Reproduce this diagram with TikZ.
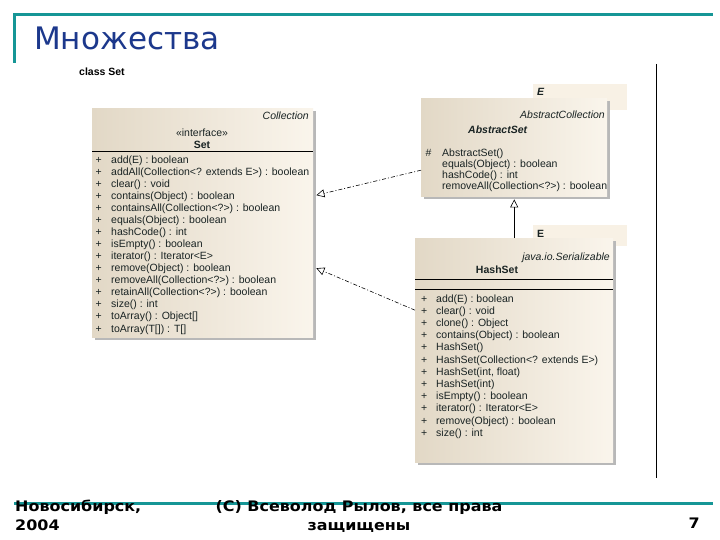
\documentclass[tikz,border=0pt]{standalone}
\usepackage{fontspec}
\setmainfont{DejaVu Sans}
\newfontfamily\umlfont{Liberation Sans}
\newfontfamily\footfont{DejaVu Sans}[FakeStretch=1.1]
\usetikzlibrary{arrows.meta,positioning,shadows}

\definecolor{slideteal}{RGB}{22,150,150}
\definecolor{titleblue}{RGB}{28,56,140}
\definecolor{umllight}{RGB}{250,245,236}
\definecolor{umldark}{RGB}{226,216,198}
\definecolor{tmplfill}{RGB}{248,241,229}
\definecolor{umltext}{RGB}{25,35,35}

\begin{document}
\begin{tikzpicture}[x=1pt, y=-1pt,
      every node/.style={inner sep=0pt, text=umltext},
      umlclass/.style={anchor=north west, left color=umldark, right color=umllight,
        drop shadow={shadow xshift=3pt, shadow yshift=-3pt, fill=black!28, opacity=1}},
      tmplbox/.style={anchor=north west, fill=tmplfill},
      umllabel/.style={font=\umlfont\fontsize{10.5}{12}\selectfont},
      members/.style={anchor=base west, align=left, font=\umlfont\fontsize{10.5}{12.07}\selectfont},
      umlrule/.style={draw=black, line width=0.8pt},
      realize/.style={-{Triangle[open,length=8pt,width=8pt]}, line width=0.6pt,
        dash pattern=on 4pt off 2pt on 1pt off 2pt},
      generalize/.style={-{Triangle[open,length=8pt,width=8pt]}, line width=0.6pt},
      slideline/.style={draw=slideteal, line width=2.6pt},
      footer/.style={font=\footfont\bfseries\fontsize{14.5}{19}\selectfont, text=black}
  ]
    \fill[white] (0,0) rectangle (720,540);
    \useasboundingbox (0,0) rectangle (720,540);

    % slide frame
    \draw[slideline] (14.5,63) -- (14.5,14.5) -- (713,14.5);
    \draw[slideline] (14,503.3) -- (713,503.3);
    \node[anchor=base west, text=titleblue, font=\fontsize{31}{36}\selectfont] (title) at (34,49.5) {Множества};
    \node[anchor=base west, font=\umlfont\bfseries\fontsize{10.5}{11}\selectfont, text=black] (diagname) at (79,76) {class Set};
    \draw[black, line width=0.8pt] (656,64) -- (656,478);

    % interface Set (multi-line nodes sit on their last baseline)
    \node[umlclass, minimum width=221pt, minimum height=229pt] (set) at (92,108) {};
    \node[umllabel, font=\umlfont\itshape\fontsize{10.5}{12}\selectfont, anchor=base east] (setparent) at (309,120) {Collection};
    \node[umllabel, anchor=base] (setkind) at (202,136.5) {«interface»};
    \node[umllabel, font=\umlfont\bfseries\fontsize{10.5}{12}\selectfont, anchor=base] (setname) at (202,149) {Set};
    \draw[umlrule] (set.west |- 0,151) -- (set.east |- 0,151);
    \node[members] (setvis) at (95.5,332) {+\\+\\+\\+\\+\\+\\+\\+\\+\\+\\+\\+\\+\\+\\+};
    \node[members] (setops) at (111,332) {add(E) : boolean\\addAll(Collection<? extends E>) : boolean\\clear() : void\\contains(Object) : boolean\\containsAll(Collection<?>) : boolean\\equals(Object) : boolean\\hashCode() : int\\isEmpty() : boolean\\iterator() : Iterator<E>\\remove(Object) : boolean\\removeAll(Collection<?>) : boolean\\retainAll(Collection<?>) : boolean\\size() : int\\toArray() : Object[]\\toArray(T[]) : T[]};

    % AbstractSet
    \node[tmplbox, minimum width=94pt, minimum height=26pt] (abstractparam) at (533,84) {};
    \node[umllabel, font=\umlfont\bfseries\itshape\fontsize{10.5}{12}\selectfont, anchor=base west] (abstractparamname) at (537,96) {E};
    \node[umlclass, minimum width=186pt, minimum height=98pt] (abstractset) at (421,98) {};
    \node[umllabel, font=\umlfont\itshape\fontsize{10.5}{12}\selectfont, anchor=base east] (abstractparent) at (605,119) {AbstractCollection};
    \node[umllabel, font=\umlfont\bfseries\itshape\fontsize{10.5}{12}\selectfont, anchor=base west] (abstractname) at (468,134) {AbstractSet};
    \node[members] (abstractvis) at (425.5,156.5) {\#};
    \node[members, font=\umlfont\fontsize{10.5}{11}\selectfont] (abstractops) at (442,189.5) {AbstractSet()\\equals(Object) : boolean\\hashCode() : int\\removeAll(Collection<?>) : boolean};

    % HashSet
    \node[tmplbox, minimum width=94pt, minimum height=21pt] (hashparam) at (533,225) {};
    \node[umllabel, font=\umlfont\bfseries\fontsize{10.5}{12}\selectfont, anchor=base west] (hashparamname) at (537,237) {E};
    \node[umlclass, minimum width=198pt, minimum height=224pt] (hashset) at (415,238) {};
    \node[umllabel, font=\umlfont\itshape\fontsize{10.5}{12}\selectfont, anchor=base east] (hashparent) at (610,260) {java.io.Serializable};
    \node[umllabel, font=\umlfont\bfseries\fontsize{10.5}{12}\selectfont, anchor=base] (hashname) at (497,273) {HashSet};
    \draw[umlrule] (hashset.west |- 0,279.5) -- (hashset.east |- 0,279.5);
    \draw[umlrule] (hashset.west |- 0,289) -- (hashset.east |- 0,289);
    \node[members, font=\umlfont\fontsize{10.5}{12.2}\selectfont] (hashvis) at (421,436.2) {+\\+\\+\\+\\+\\+\\+\\+\\+\\+\\+\\+};
    \node[members, font=\umlfont\fontsize{10.5}{12.2}\selectfont] (hashops) at (436,436.2) {add(E) : boolean\\clear() : void\\clone() : Object\\contains(Object) : boolean\\HashSet()\\HashSet(Collection<? extends E>)\\HashSet(int, float)\\HashSet(int)\\isEmpty() : boolean\\iterator() : Iterator<E>\\remove(Object) : boolean\\size() : int};

    % relations
    \draw[generalize] (hashset.north) -- ([yshift=-3pt]abstractset.south);
    \draw[realize] ([yshift=-23pt]abstractset.west) -- ([xshift=3pt,yshift=27.5pt]set.east);
    \draw[realize] ([yshift=40pt]hashset.west) -- ([xshift=3pt,yshift=-45.5pt]set.east);

    % footer
    \node[footer, align=left, anchor=base west] (city) at (15,530) {Новосибирск,\\2004};
    \node[footer, align=center, anchor=base] (copyright) at (359,530) {(C) Всеволод Рылов, все права\\защищены};
    \node[footer, anchor=base east] (pagenum) at (700,528) {7};
\end{tikzpicture}
\end{document}
